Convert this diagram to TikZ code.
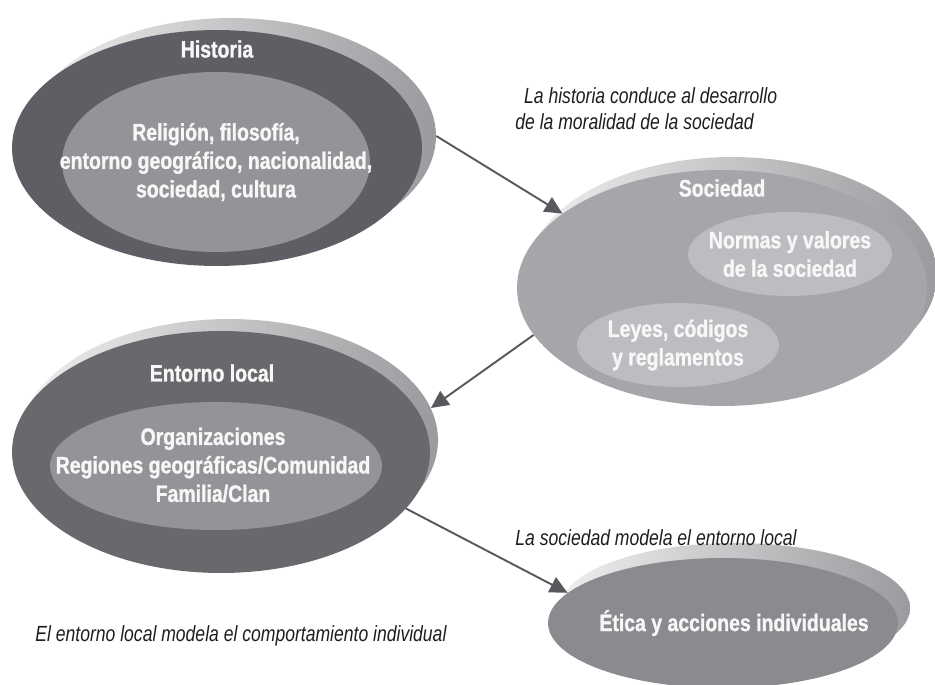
\documentclass[tikz,border=0pt]{standalone}
\usepackage{fontspec}
\setmainfont{Liberation Sans}
\newfontfamily\condfont[FakeStretch=0.82, BoldFeatures={FakeBold=1.2}]{Liberation Sans}
\newfontfamily\notefont[FakeStretch=0.80]{Liberation Sans}
\usetikzlibrary{shapes.geometric, arrows.meta, positioning}

\definecolor{rimlight}{HTML}{EFEFEF}
\definecolor{rimdark}{HTML}{9A9B9E}
\definecolor{histc}{HTML}{5E5F64}
\definecolor{entc}{HTML}{68696D}
\definecolor{innerc}{HTML}{939498}
\definecolor{socc}{HTML}{A4A6A9}
\definecolor{socin}{HTML}{BCBDC0}
\definecolor{etic}{HTML}{8A8B8F}
\definecolor{txtc}{HTML}{F7F7F7}
\definecolor{linec}{HTML}{58595C}
\definecolor{notec}{HTML}{1E1E1E}

\tikzset{
    rim/.style={ellipse, inner sep=0pt, left color=rimlight, right color=rimdark},
    body/.style={ellipse, inner sep=0pt},
    btext/.style={text=txtc, align=center, inner sep=0pt,
        font=\condfont\bfseries\fontsize{13.5}{16.2}\selectfont},
    note/.style={text=notec, align=left, inner sep=0pt,
        font=\notefont\itshape\fontsize{12.5}{14.8}\selectfont},
    flow/.style={draw=linec, line width=1.1pt, -{Triangle[length=10pt,width=9.5pt]}}
}

\begin{document}
\begin{tikzpicture}[x=0.02cm, y=-0.02cm]
    \useasboundingbox (0,0) rectangle (935,684);
    % Historia
    \node[rim, minimum width=8.2cm, minimum height=4.72cm] (histrim) at (231,136) {};
    \node[body, fill=histc, minimum width=8.2cm, minimum height=4.72cm] (hist) at (217,148) {};
    \node[body, fill=innerc, minimum width=6.16cm, minimum height=3.6cm] (histin) at (216,162) {};
    \node[btext] (histtitle) at (217,49) {Historia};
    \node[btext] (histtext) at (216,162) {Religión, filosofía,\\entorno geográfico, nacionalidad,\\sociedad, cultura};
    % Sociedad
    \node[rim, minimum width=8.2cm, minimum height=4.72cm] (socrim) at (732,275) {};
    \node[body, fill=socc, minimum width=8.2cm, minimum height=4.72cm] (soc) at (722,288) {};
    \node[body, fill=socin, minimum width=4.08cm, minimum height=1.68cm] (normas) at (790,254) {};
    \node[body, fill=socin, minimum width=4.04cm, minimum height=1.68cm] (leyes) at (678,345) {};
    \node[btext] (soctitle) at (722,188) {Sociedad};
    \node[btext] (normastext) at (790,254) {Normas y valores\\de la sociedad};
    \node[btext] (leyestext) at (678,345) {Leyes, códigos\\y reglamentos};
    % Entorno local
    \node[rim, minimum width=8.36cm, minimum height=4.84cm] (entrim) at (229,440) {};
    \node[body, fill=entc, minimum width=8.36cm, minimum height=4.84cm] (ent) at (221,452) {};
    \node[body, fill=innerc, minimum width=6.64cm, minimum height=2.56cm] (entin) at (216,466) {};
    \node[btext] (enttitle) at (212,373) {Entorno local};
    \node[btext] (enttext) at (213,465) {Organizaciones\\Regiones geográficas/Comunidad\\Familia/Clan};
    % Etica
    \node[rim, minimum width=7cm, minimum height=2.6cm] (etirim) at (735,608) {};
    \node[body, fill=etic, minimum width=7cm, minimum height=2.6cm] (eti) at (723,623) {};
    \node[btext] (etitext) at (734,623) {Ética y acciones individuales};
    % notas
    \node[note, anchor=west] (note1) at (515,109) {\hspace{5pt}La historia conduce al desarrollo\\de la moralidad de la sociedad};
    \node[note, anchor=west] (note2) at (515,538) {La sociedad modela el entorno local};
    \node[note, anchor=west] (note3) at (35,636) {El entorno local modela el comportamiento individual};
    % flechas
    \draw[flow] (histrim.east) -- (soc.155);
    \draw[flow] (soc.194) -- (entrim.9);
    \draw[flow] (ent.-17) -- (eti.169);
\end{tikzpicture}
\end{document}
